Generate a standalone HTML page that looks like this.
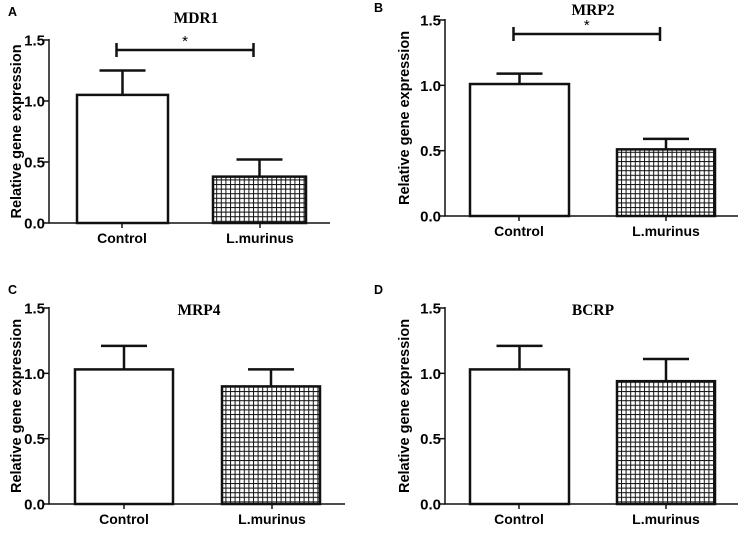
<!DOCTYPE html>
<html><head><meta charset="utf-8"><style>
html,body{margin:0;padding:0;background:#fff;}
svg{display:block;}
</style></head><body>
<svg id="chart" width="742" height="546" xmlns="http://www.w3.org/2000/svg">
<defs>
<pattern id="grid" patternUnits="userSpaceOnUse" width="4.6" height="4.6">
<rect width="4.6" height="4.6" fill="#fff"/>
<path d="M0 0.5H4.6M0.5 0V4.6" stroke="#111" stroke-width="1"/>
</pattern>
</defs>
</svg>
<script>
const categories = ["Control", "L.murinus"];
const panelTitles = ["MDR1", "MRP2", "MRP4", "BCRP"];
const panelLetters = ["A", "B", "C", "D"];
const meanValues = [[1.05, 0.38], [1.01, 0.51], [1.03, 0.90], [1.03, 0.94]];
const errorTops = [[1.25, 0.52], [1.09, 0.59], [1.21, 1.03], [1.21, 1.11]];
const yTicks = [0, 0.5, 1.0, 1.5];
const yTickLabels = ["0.0", "0.5", "1.0", "1.5"];
const significant = [true, true, false, false];

const layouts = [
  {ax:49, y0:223, y15:40, xend:330, bars:[[77,168],[213,306]], ticks:[122,260], title:[196,23], letter:[8,16], ytx:17, sigY:50, starY:46},
  {ax:445, y0:216, y15:20, xend:738, bars:[[470,569],[617,715]], ticks:[519,666], title:[593,15], letter:[374,12], ytx:405, sigY:34, starY:30},
  {ax:49, y0:504, y15:308, xend:345, bars:[[75,173],[222,320]], ticks:[124,272], title:[199,315], letter:[8,294], ytx:17},
  {ax:445, y0:504, y15:308, xend:738, bars:[[470,569],[617,715]], ticks:[519,666], title:[593,315], letter:[374,294], ytx:405}
];
const svg = document.getElementById('chart');
const NS = 'http://www.w3.org/2000/svg';
function mk(tag, attrs, parent){const e=document.createElementNS(NS,tag);for(const k in attrs)e.setAttribute(k,attrs[k]);(parent||svg).appendChild(e);return e;}
function txt(s, attrs, parent){const e=mk('text',attrs,parent);e.textContent=s;return e;}

layouts.forEach((L,p)=>{
  const g=mk('g',{});
  
  
  const y=v=>L.y0-(L.y0-L.y15)*v/1.5;
  const lt=txt(panelLetters[p],{x:L.letter[0],y:L.letter[1],'font-family':'Liberation Sans, sans-serif','font-weight':'bold','font-size':'12.5'},g);
  
  
  const tt=txt(panelTitles[p],{x:L.title[0],y:L.title[1],'text-anchor':'middle','font-family':'Liberation Serif, serif','font-weight':'bold','font-size':'15.5'},g);
  
  
  const yt=txt('Relative gene expression',{x:0,y:0,transform:`translate(${L.ytx},${(L.y0+L.y15)/2}) rotate(-90)`,'text-anchor':'middle','dominant-baseline':'central','font-family':'Liberation Sans, sans-serif','font-weight':'bold','font-size':'14.5'},g);
  
  
  categories.forEach((c,i)=>{
    const [x1,x2]=L.bars[i];const cx=(x1+x2)/2;
    const ey=y(errorTops[p][i]), by=y(meanValues[p][i]);
    const el=mk('path',{d:`M${cx} ${by}V${ey}M${cx-23} ${ey}H${cx+23}`,stroke:'#111','stroke-width':'2.5',fill:'none'},g);
    
    
    const r=mk('rect',{x:x1,y:by,width:x2-x1,height:L.y0-by,fill:i?'url(#grid)':'#fff',stroke:'#111','stroke-width':'2.5'},g);
    
    
    mk('line',{x1:L.ticks[i],x2:L.ticks[i],y1:L.y0,y2:L.y0+5,stroke:'#111','stroke-width':'1.5'},g);
    const xl=txt(c,{x:L.ticks[i],y:L.y0+20,'text-anchor':'middle','font-family':'Liberation Sans, sans-serif','font-weight':'bold','font-size':'14'},g);
    
    
  });
  const ax=mk('path',{d:`M${L.ax} ${L.y15-1}V${L.y0}H${L.xend}`,stroke:'#111','stroke-width':'1.5',fill:'none'},g);
  
  
  yTicks.forEach((v,k)=>{
    mk('line',{x1:L.ax-5,x2:L.ax,y1:y(v),y2:y(v),stroke:'#111','stroke-width':'1.5'},g);
    const tl=txt(yTickLabels[k],{x:L.ax-4,y:y(v)+5.5,'text-anchor':'end','font-family':'Liberation Sans, sans-serif','font-weight':'bold','font-size':'15'},g);
    
    
  });
  if(significant[p]){
    const a=L.bars[0], b=L.bars[1];
    const xa=(a[0]+a[1])/2-6, xb=(b[0]+b[1])/2-6;
    const s=mk('path',{d:`M${xa} ${L.sigY}H${xb}M${xa} ${L.sigY-7}V${L.sigY+7}M${xb} ${L.sigY-7}V${L.sigY+7}`,stroke:'#111','stroke-width':'2.5',fill:'none'},g);
    
    
    const st=txt('*',{x:(xa+xb)/2,y:L.starY,'text-anchor':'middle','font-family':'Liberation Sans, sans-serif','font-size':'15'},g);
    
    
  }
});
</script>
</body></html>
